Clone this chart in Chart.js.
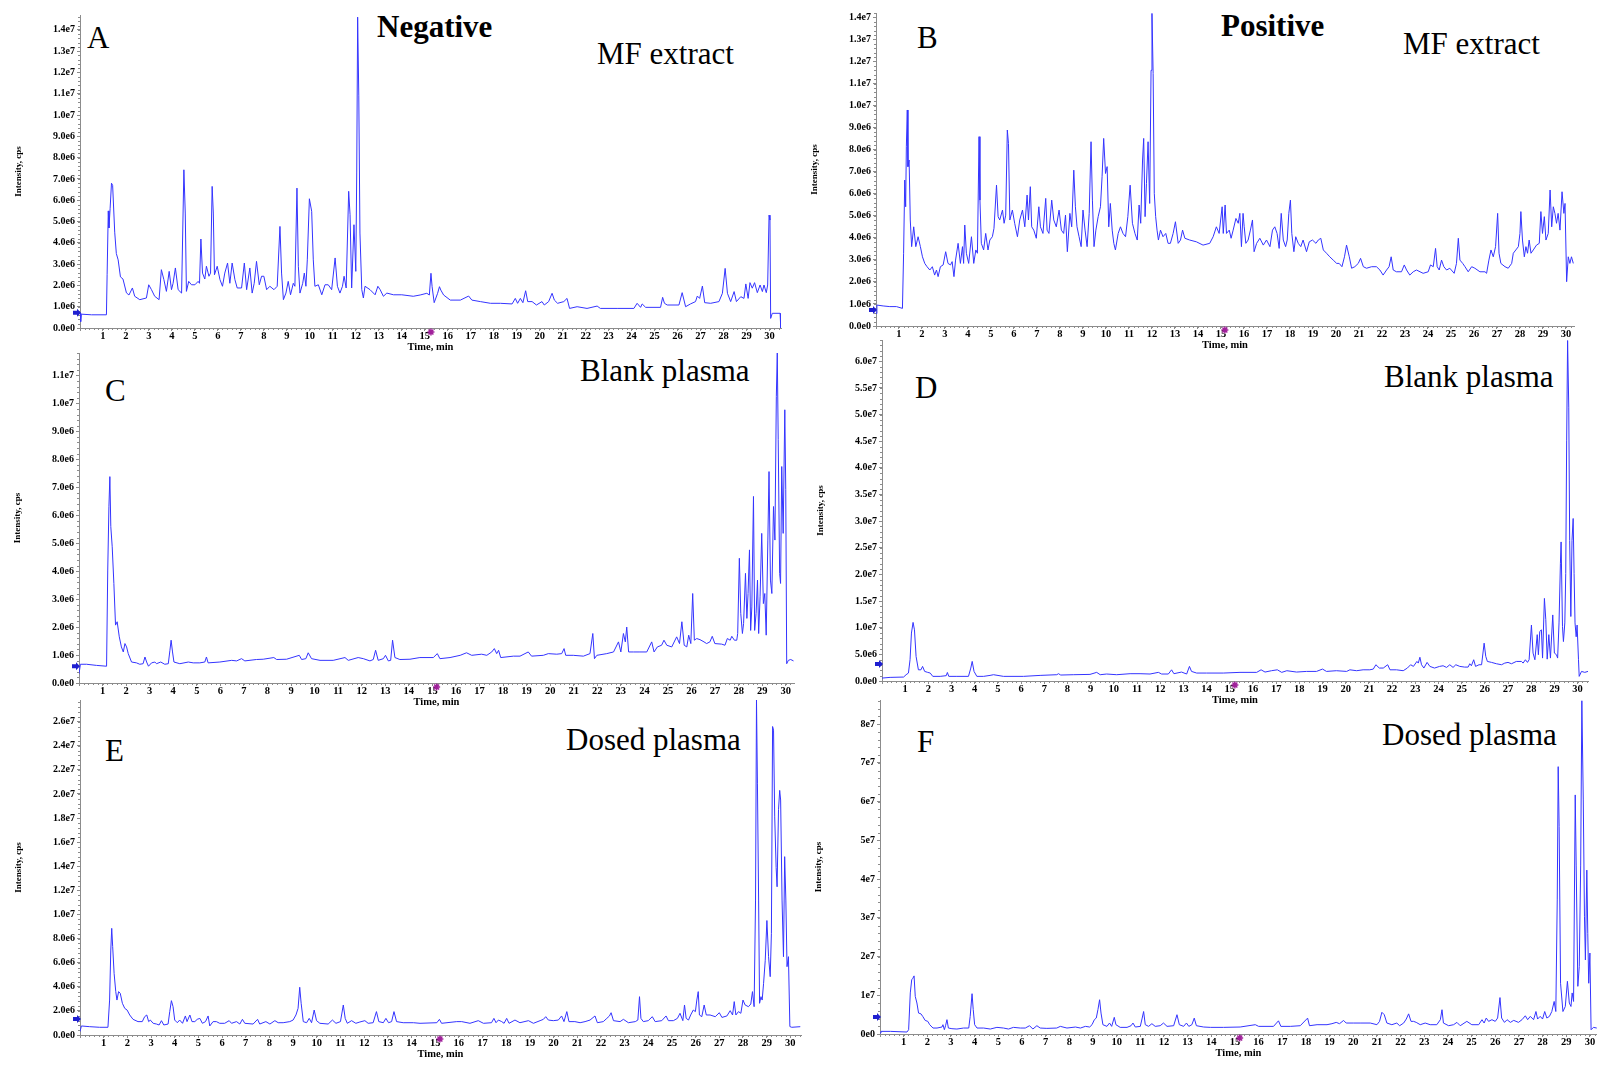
<!DOCTYPE html>
<html>
<head>
<meta charset="utf-8">
<title>TIC chromatograms</title>
<script src="https://cdn.jsdelivr.net/npm/chart.js@4.4.1/dist/chart.umd.min.js"></script>
<style>
  html, body { margin: 0; padding: 0; background: #fff; }
  #fig { position: relative; width: 1597px; height: 1065px; overflow: hidden; background: #fff; }
  #fig canvas { position: absolute; }
  .lbl { position: absolute; font-family: "Liberation Serif", "Times New Roman", serif; font-size: 31px; line-height: 31px; color: #000; white-space: nowrap; }
  .lbl.b { font-weight: bold; }
</style>
</head>
<body>
<div id="fig">
  <div class="lbl" style="left:87px;top:22px">A</div>
  <div class="lbl b" style="left:377px;top:11px">Negative</div>
  <div class="lbl" style="left:597px;top:38px">MF extract</div>
  <div class="lbl" style="left:917px;top:22px">B</div>
  <div class="lbl b" style="left:1221px;top:10px">Positive</div>
  <div class="lbl" style="left:1403px;top:28px">MF extract</div>
  <div class="lbl" style="left:105px;top:375px">C</div>
  <div class="lbl" style="left:580px;top:355px">Blank plasma</div>
  <div class="lbl" style="left:915px;top:372px">D</div>
  <div class="lbl" style="left:1384px;top:361px">Blank plasma</div>
  <div class="lbl" style="left:105px;top:735px">E</div>
  <div class="lbl" style="left:566px;top:724px">Dosed plasma</div>
  <div class="lbl" style="left:917px;top:726px">F</div>
  <div class="lbl" style="left:1382px;top:719px">Dosed plasma</div>
</div>
<script>
// intensities are in units of 1e6 cps, time in min

// A - negative mode, MF extract
var aTime = [0,0.03,0.06,0.5,1.15,1.18,1.23,1.26,1.31,1.37,1.42,1.51,1.58,1.66,1.76,1.87,2.02,2.13,2.28,2.38,2.6,2.89,2.99,3.11,3.25,3.44,3.54,3.65,3.76,3.88,3.98,4.05,4.15,4.27,4.42,4.52,4.58,4.63,4.73,4.85,5.0,5.14,5.2,5.26,5.33,5.43,5.5,5.61,5.68,5.75,5.8,5.85,5.97,6.09,6.2,6.3,6.42,6.52,6.62,6.74,6.84,7.03,7.15,7.25,7.39,7.49,7.58,7.68,7.8,7.9,8.0,8.12,8.26,8.44,8.58,8.7,8.77,8.85,8.96,9.06,9.16,9.28,9.35,9.44,9.5,9.57,9.69,9.76,9.83,9.89,9.98,10.08,10.15,10.22,10.37,10.52,10.66,10.8,10.95,11.1,11.2,11.31,11.42,11.49,11.58,11.69,11.75,11.82,11.92,12.0,12.04,12.08,12.13,12.18,12.26,12.33,12.4,12.62,12.84,12.96,13.06,13.2,13.35,13.64,14.0,14.5,14.8,15.09,15.2,15.27,15.32,15.41,15.56,15.64,15.7,15.82,16.11,16.55,16.91,17.05,17.42,17.86,18.29,18.8,18.94,19.04,19.16,19.27,19.39,19.48,19.67,19.86,20.1,20.2,20.39,20.54,20.64,20.78,21.05,21.19,21.3,21.63,22.06,22.5,22.64,23.37,24.1,24.24,24.39,24.46,24.61,25.26,25.35,25.43,25.55,26.06,26.2,26.35,26.56,26.78,26.86,26.96,27.08,27.18,27.44,27.8,27.95,28.07,28.17,28.31,28.46,28.56,28.75,28.89,28.97,29.07,29.15,29.25,29.35,29.47,29.59,29.69,29.76,29.86,29.92,29.98,30.02,30.05,30.12,30.46,30.49];
var aIntensity = [0.7,0.3,0.65,0.62,0.62,2.5,5.5,4.7,5.6,6.8,6.7,4.5,3.5,3.2,2.4,2.3,1.65,1.55,1.88,1.49,1.33,1.41,2.03,1.8,1.49,1.33,2.74,2.27,1.72,2.66,1.8,2.1,2.82,1.8,1.64,7.43,5.4,1.72,2.19,2.03,2.03,2.19,2.1,4.18,2.58,2.3,2.9,2.43,2.58,6.65,5.4,2.5,2.9,2.27,1.96,2.58,3.05,2.1,3.05,2.27,1.88,1.88,3.05,1.8,2.82,1.64,2.1,3.13,2.03,2.43,2.43,1.8,1.96,1.8,1.96,4.77,2.58,1.33,1.64,2.19,1.56,2.1,1.96,6.57,2.9,1.64,2.1,2.58,1.96,3.2,6.07,5.48,3.2,1.96,2.03,1.56,2.03,2.03,1.8,3.29,1.96,1.64,1.96,2.43,1.88,6.42,5.32,1.88,4.85,2.66,7.28,14.6,10.9,4.46,1.8,1.41,1.96,1.8,1.56,1.96,1.8,1.49,1.64,1.56,1.56,1.49,1.55,1.63,1.55,2.57,1.94,1.19,1.63,1.94,1.78,1.55,1.31,1.31,1.5,1.31,1.24,1.16,1.16,1.13,1.39,1.16,1.39,1.19,1.75,1.24,1.24,1.08,1.24,1.08,1.24,1.63,1.31,1.16,1.24,1.39,0.92,1.0,0.92,1.03,0.92,0.92,0.92,1.16,0.97,1.13,0.97,0.97,1.44,1.16,1.08,1.08,1.66,1.0,1.13,1.24,1.5,1.39,1.97,1.19,1.16,1.24,1.63,2.8,1.63,1.24,1.71,1.24,1.47,1.39,2.07,1.39,2.13,1.87,2.13,1.66,2.02,1.71,2.02,1.66,2.02,5.3,5.07,0.45,0.69,0.69,0.0];

// B - positive mode, MF extract
var bTime = [0,0.04,0.31,0.6,0.89,1.15,1.2,1.25,1.29,1.32,1.36,1.39,1.44,1.49,1.55,1.64,1.73,1.83,1.93,2.02,2.12,2.22,2.34,2.45,2.55,2.63,2.7,2.8,2.92,3.03,3.13,3.24,3.31,3.39,3.46,3.57,3.67,3.76,3.81,3.86,3.93,4.03,4.15,4.25,4.34,4.41,4.48,4.52,4.58,4.68,4.77,4.87,4.95,5.06,5.13,5.24,5.31,5.38,5.5,5.57,5.64,5.71,5.76,5.82,5.93,6.03,6.15,6.25,6.37,6.47,6.57,6.63,6.71,6.77,6.86,6.97,7.08,7.15,7.26,7.38,7.44,7.52,7.64,7.73,7.84,7.96,8.06,8.16,8.24,8.32,8.43,8.51,8.6,8.67,8.74,8.83,8.92,9.0,9.09,9.18,9.27,9.35,9.41,9.48,9.56,9.66,9.76,9.83,9.9,9.98,10.05,10.12,10.19,10.27,10.34,10.41,10.53,10.63,10.74,10.85,10.95,11.05,11.15,11.26,11.36,11.44,11.51,11.59,11.64,11.7,11.76,11.83,11.9,11.96,12.0,12.05,12.1,12.16,12.22,12.28,12.37,12.48,12.6,12.7,12.8,12.92,13.02,13.14,13.24,13.33,13.43,13.64,13.93,14.22,14.51,14.66,14.8,14.92,15.05,15.1,15.18,15.24,15.36,15.44,15.53,15.65,15.75,15.82,15.89,15.96,16.01,16.08,16.18,16.28,16.37,16.44,16.55,16.69,16.84,16.98,17.13,17.24,17.34,17.44,17.53,17.62,17.71,17.81,17.88,17.95,18.02,18.08,18.17,18.25,18.36,18.47,18.57,18.72,18.84,18.98,19.13,19.23,19.34,19.45,19.59,19.73,19.88,20.03,20.14,20.26,20.37,20.46,20.58,20.68,20.82,20.97,21.07,21.19,21.33,21.55,21.76,21.91,22.05,22.2,22.31,22.4,22.49,22.63,22.85,22.97,23.07,23.21,23.36,23.5,23.79,24.01,24.11,24.23,24.33,24.4,24.49,24.59,24.69,24.81,24.95,25.14,25.24,25.32,25.39,25.51,25.61,25.75,25.9,26.04,26.26,26.48,26.55,26.65,26.74,26.84,26.94,27.03,27.09,27.17,27.35,27.49,27.64,27.71,27.82,27.93,28.0,28.04,28.11,28.19,28.26,28.33,28.4,28.48,28.58,28.72,28.84,28.91,28.98,29.06,29.13,29.23,29.31,29.38,29.45,29.52,29.59,29.66,29.74,29.83,29.91,29.96,30.03,30.1,30.17,30.24,30.32];
var bIntensity = [0.57,0.95,0.91,0.88,0.88,0.8,3.3,6.62,5.41,8.13,9.8,7.23,7.53,4.81,3.6,4.5,3.6,4.05,3.6,3.14,2.84,2.69,2.54,2.69,2.31,2.54,2.24,2.69,2.77,3.37,2.84,2.77,2.92,2.24,2.99,3.75,2.84,3.6,2.84,4.58,3.3,2.84,4.05,2.84,3.45,3.3,8.59,5.71,3.75,3.45,4.2,3.45,3.9,4.05,4.43,6.39,4.96,4.81,5.26,4.66,5.03,8.89,8.28,4.81,5.26,4.66,4.05,4.81,5.26,4.5,5.94,4.81,6.32,4.5,4.35,3.98,5.41,4.5,4.2,5.79,4.35,4.2,5.71,4.81,4.5,5.26,4.35,4.2,5.03,3.37,5.11,4.5,7.07,5.41,4.5,4.05,3.6,5.26,4.35,3.6,5.11,8.36,5.71,3.6,4.35,4.96,5.41,6.77,8.51,6.92,7.23,4.5,5.56,4.35,3.75,3.45,4.2,4.5,4.2,4.05,4.96,6.39,4.66,4.2,3.9,5.49,4.66,7.53,8.51,4.96,6.47,8.36,5.56,11.6,14.18,11.46,6.02,4.96,4.35,3.9,4.35,4.05,4.2,3.75,3.75,4.2,4.73,3.75,3.9,4.35,3.98,3.9,3.82,3.67,3.75,4.05,4.5,4.2,5.41,4.2,5.49,4.2,4.35,3.98,4.35,4.88,4.66,5.11,3.6,5.11,4.5,3.75,3.9,4.35,4.81,3.37,3.75,3.98,3.67,3.9,3.6,4.35,4.5,4.2,3.52,5.11,3.9,3.6,3.9,5.11,5.71,4.2,3.37,4.05,3.75,3.6,3.9,3.37,3.82,3.9,3.75,3.9,3.98,3.45,3.3,3.14,2.99,2.84,2.84,2.69,3.14,3.67,3.14,2.62,2.69,2.84,3.07,2.69,2.62,2.69,2.69,2.54,2.31,2.54,2.69,3.14,2.54,2.46,2.46,2.77,2.54,2.31,2.46,2.54,2.39,2.46,2.77,2.69,3.52,2.69,2.54,2.99,2.69,2.54,2.62,2.39,2.84,3.98,2.99,2.84,2.69,2.46,2.69,2.62,2.46,2.46,2.39,2.99,3.45,3.14,3.6,5.11,3.3,2.84,2.69,2.62,2.84,3.3,3.45,3.6,4.2,5.19,3.9,3.14,3.6,3.3,3.9,3.3,3.45,3.67,3.75,5.19,4.2,4.96,3.9,4.2,6.17,4.5,5.41,5.11,4.66,5.11,4.35,6.09,5.11,5.56,2.01,3.14,2.84,3.14,2.84];

// C - negative mode, blank plasma
var cTime = [0,0.06,0.32,0.74,1.17,1.22,1.27,1.31,1.35,1.41,1.48,1.55,1.62,1.71,1.8,1.88,1.95,2.02,2.09,2.23,2.44,2.58,2.72,2.8,2.87,2.95,3.08,3.22,3.29,3.47,3.64,3.79,3.86,3.91,3.97,4.03,4.28,4.64,4.85,5.13,5.34,5.41,5.48,5.98,6.48,6.69,6.9,7.04,7.53,7.82,8.27,8.39,8.81,9.35,9.45,9.63,9.73,9.87,10.23,10.79,11.29,11.43,11.85,12.07,12.35,12.49,12.59,12.7,12.92,13.01,13.13,13.23,13.31,13.41,13.62,14.05,14.47,15.04,15.21,15.32,15.75,16.18,16.45,16.67,17.09,17.31,17.52,17.63,17.73,17.81,17.9,18.44,18.72,19.07,19.21,19.71,19.92,20.28,20.49,20.59,20.66,20.98,21.41,21.69,21.81,21.88,21.98,22.4,22.69,22.9,23.0,23.11,23.19,23.25,23.33,23.53,23.81,24.1,24.31,24.41,24.55,24.73,24.83,24.95,25.16,25.37,25.49,25.59,25.69,25.8,25.88,25.97,26.05,26.12,26.22,26.36,26.53,26.64,26.78,26.88,26.99,27.28,27.42,27.52,27.64,27.71,27.82,27.92,27.96,28.03,28.09,28.16,28.21,28.29,28.35,28.4,28.46,28.51,28.56,28.63,28.68,28.74,28.8,28.85,28.91,28.98,29.05,29.11,29.17,29.24,29.29,29.35,29.41,29.48,29.54,29.6,29.64,29.68,29.74,29.78,29.83,29.89,29.96,30.0,30.04,30.11,30.21,30.33];
var cIntensity = [0.33,0.67,0.67,0.63,0.6,4.04,6.3,7.38,5.59,4.87,3.56,2.07,2.19,1.65,1.29,1.11,1.41,1.29,1.05,0.75,0.72,0.67,0.69,0.93,0.75,0.6,0.72,0.75,0.69,0.75,0.67,0.69,1.17,1.53,1.11,0.75,0.69,0.75,0.72,0.72,0.75,0.93,0.72,0.75,0.81,0.79,0.87,0.79,0.84,0.85,0.91,0.84,0.85,0.99,0.84,0.87,1.08,0.87,0.81,0.81,0.91,0.81,0.91,0.87,0.79,0.84,1.17,0.81,0.87,0.99,0.79,0.81,1.53,0.91,0.84,0.85,0.91,0.91,1.05,0.87,0.91,0.99,1.08,0.99,1.03,0.99,1.11,1.23,1.05,1.17,0.91,0.96,0.96,1.11,0.96,0.99,1.05,1.03,1.05,1.23,0.99,0.99,0.96,1.05,1.77,0.87,0.99,1.05,1.11,1.47,1.11,1.77,1.47,2.0,1.11,1.11,1.11,1.11,1.47,1.11,1.29,1.35,1.53,1.35,1.29,1.65,1.41,2.19,1.35,1.29,1.71,1.41,3.2,1.53,1.59,1.55,1.47,1.41,1.47,1.67,1.41,1.39,1.35,1.59,1.53,1.67,1.53,1.53,1.77,4.46,2.49,1.77,2.13,3.92,2.31,3.2,4.76,1.88,2.72,6.67,1.88,2.49,3.68,1.77,3.08,5.35,2.84,3.2,1.71,5.11,7.56,3.68,3.2,6.31,5.11,10.25,11.8,8.7,3.92,3.56,7.74,5.35,9.77,6.91,0.69,0.81,0.84,0.79];

// D - positive mode, blank plasma
var dTime = [0,0.35,0.93,1.04,1.14,1.21,1.27,1.34,1.4,1.47,1.57,1.68,1.75,1.84,1.97,2.08,2.19,2.51,2.77,2.82,2.88,3.23,3.73,3.83,3.89,3.97,4.09,4.38,4.66,4.81,5.24,6.1,6.82,7.54,7.61,7.71,8.25,8.97,9.26,9.41,9.69,10.12,10.7,11.13,11.56,11.92,12.06,12.35,12.49,12.59,12.92,13.14,13.26,13.35,13.57,14.0,14.72,15.44,16.16,16.35,16.52,16.8,17.05,17.24,17.46,17.88,18.31,18.74,19.0,19.17,19.6,20.04,20.18,20.47,20.75,21.04,21.19,21.3,21.45,21.62,21.81,21.91,22.19,22.48,22.66,22.8,22.92,23.07,23.13,23.2,23.27,23.37,23.51,23.63,23.83,24.05,24.2,24.35,24.49,24.63,24.75,24.92,25.13,25.28,25.35,25.42,25.52,25.6,25.75,25.86,25.97,26.04,26.11,26.29,26.5,26.72,26.86,27.0,27.15,27.36,27.58,27.65,27.75,27.84,27.91,28.01,28.08,28.16,28.26,28.31,28.37,28.44,28.49,28.57,28.63,28.69,28.76,28.83,28.93,29.0,29.09,29.14,29.2,29.26,29.29,29.35,29.39,29.45,29.49,29.53,29.57,29.62,29.66,29.71,29.76,29.81,29.85,29.89,29.94,29.98,30.04,30.07,30.17,30.31,30.45];
var dIntensity = [0.55,0.68,0.74,1.18,1.49,4.0,9.0,11.0,9.6,4.6,2.1,2.1,2.74,1.8,1.62,1.49,0.87,0.87,1.0,1.6,0.87,0.87,0.87,2.43,3.68,1.8,0.87,0.87,1.05,1.18,0.87,0.87,1.05,1.18,1.37,1.12,1.18,1.24,1.62,1.18,1.31,1.18,1.37,1.37,1.31,1.62,1.31,1.31,2.1,1.37,1.68,1.31,2.74,1.8,1.49,1.49,1.49,1.62,1.62,2.1,1.68,1.93,2.1,1.62,1.93,1.68,1.8,1.8,2.24,1.8,1.93,1.8,2.1,1.93,2.1,2.1,2.24,3.05,2.43,2.43,3.05,2.1,2.1,1.93,2.43,3.05,2.74,3.67,3.36,4.46,3.05,2.43,3.49,2.74,2.43,2.74,2.86,2.55,3.05,2.55,3.05,2.74,2.61,2.61,3.24,2.86,3.99,2.74,3.05,3.05,7.1,4.62,3.67,3.49,3.24,3.05,3.36,3.49,3.24,3.67,3.67,3.36,3.99,3.49,3.99,10.5,5.24,3.99,8.7,4.93,9.3,9.6,4.3,15.5,11.5,4.1,8.7,4.3,12.4,5.24,4.93,4.3,10.9,22.1,26.1,10.2,7.4,10.9,20.2,45.2,63.9,51.4,26.4,12.1,26.4,30.5,20.2,10.9,8.3,10.5,4.0,0.87,1.8,1.62,1.8];

// E - negative mode, dosed plasma
var eTime = [0,0.06,0.41,0.83,1.18,1.25,1.3,1.34,1.38,1.44,1.51,1.56,1.63,1.7,1.79,1.89,1.99,2.1,2.24,2.45,2.63,2.73,2.82,2.9,2.97,3.09,3.23,3.34,3.44,3.54,3.72,3.79,3.86,3.93,4.0,4.11,4.21,4.33,4.45,4.52,4.64,4.73,4.85,4.95,5.06,5.17,5.3,5.41,5.48,5.62,5.76,5.9,6.11,6.3,6.4,6.61,6.75,6.86,6.96,7.31,7.5,7.59,7.85,8.02,8.23,8.37,8.58,8.86,9.0,9.12,9.21,9.28,9.34,9.43,9.57,9.68,9.78,9.89,9.99,10.13,10.48,10.66,10.81,11.0,11.12,11.2,11.29,11.47,11.65,11.82,12.03,12.17,12.38,12.52,12.62,12.81,12.92,13.03,13.16,13.26,13.37,13.65,14.08,14.36,15.07,15.18,15.27,15.91,16.12,16.47,16.82,17.04,17.38,17.48,17.57,17.67,17.81,17.91,18.02,18.12,18.37,18.58,18.94,19.15,19.43,19.57,19.67,19.78,19.99,20.2,20.34,20.44,20.56,20.65,20.9,21.12,21.33,21.54,21.75,21.85,22.1,22.25,22.36,22.43,22.53,22.81,22.95,23.16,23.45,23.56,23.63,23.69,23.79,24.0,24.17,24.29,24.57,24.75,24.85,25.06,25.23,25.34,25.46,25.53,25.6,25.7,25.79,25.9,25.99,26.05,26.11,26.16,26.26,26.36,26.45,26.61,26.83,27.0,27.11,27.32,27.46,27.56,27.63,27.7,27.81,27.91,28.0,28.09,28.23,28.33,28.4,28.47,28.53,28.57,28.61,28.66,28.7,28.76,28.81,28.87,28.94,29.01,29.08,29.15,29.2,29.25,29.29,29.34,29.4,29.44,29.5,29.55,29.59,29.65,29.71,29.76,29.81,29.86,29.92,29.98,30.06,30.42];
var eIntensity = [0.28,0.75,0.69,0.64,0.64,2.9,7.05,8.85,7.33,5.12,3.6,2.9,3.6,3.46,2.63,2.21,2.07,1.66,1.3,1.11,1.11,1.52,1.66,1.11,1.24,0.97,0.91,0.83,1.19,0.83,0.91,1.94,2.85,2.35,1.24,1.02,1.24,0.97,1.58,1.11,1.66,1.11,1.11,1.3,1.38,0.97,1.11,1.58,0.75,1.11,1.11,0.97,0.97,1.19,0.97,1.11,0.91,1.3,0.97,0.91,1.3,0.91,1.11,0.91,1.19,1.02,1.02,1.11,1.24,1.66,2.21,3.96,2.63,1.11,1.02,1.38,1.02,2.07,1.19,0.97,0.91,1.24,0.97,1.11,2.49,1.38,0.97,1.19,0.97,1.08,1.19,0.97,1.02,1.94,1.11,1.02,1.38,1.02,1.11,1.94,1.11,1.02,1.02,0.97,1.02,1.3,0.97,1.11,1.11,0.97,1.19,0.97,1.02,1.38,1.02,1.24,1.11,0.97,1.38,0.97,1.24,1.02,1.19,0.97,1.19,1.3,1.52,1.24,1.19,1.24,1.58,1.11,1.94,1.11,1.11,1.02,1.11,1.24,1.58,1.02,1.11,1.38,1.58,1.85,1.19,1.11,1.3,1.02,1.11,1.24,3.18,1.38,1.11,1.19,1.52,1.11,1.19,1.58,1.19,1.19,1.38,1.8,1.19,2.49,1.38,1.24,1.66,2.07,1.94,2.9,3.6,1.66,1.52,2.49,1.66,1.66,1.52,1.85,1.46,1.58,2.02,1.66,2.77,1.66,1.94,1.8,2.9,2.49,2.35,2.57,3.6,2.35,11.2,27.8,20.9,11.2,2.63,3.18,2.9,4.29,6.2,9.5,6.5,4.84,8.44,25.6,25.3,18.1,13.9,12.3,18.7,20.3,19.5,11.2,6.5,14.8,11.2,5.67,6.5,0.7,0.64,0.69];

// F - positive mode, dosed plasma
var fTime = [0,0.04,0.44,1.14,1.21,1.28,1.34,1.39,1.44,1.49,1.56,1.63,1.73,1.81,1.91,2.02,2.1,2.24,2.41,2.62,2.66,2.72,2.77,2.83,2.89,3.04,3.25,3.53,3.75,3.81,3.89,3.94,4.0,4.1,4.38,4.66,4.94,5.22,5.43,5.64,5.93,6.14,6.32,6.46,6.63,6.77,7.05,7.47,7.62,7.9,8.26,8.47,8.68,8.86,8.96,9.06,9.14,9.21,9.28,9.34,9.42,9.59,9.7,9.79,9.9,9.97,10.15,10.44,10.61,10.69,10.79,11.0,11.08,11.14,11.21,11.35,11.49,11.63,11.84,11.98,12.13,12.41,12.55,12.65,12.83,12.95,13.05,13.18,13.28,13.37,13.68,13.96,14.52,15.22,15.86,16.0,16.63,16.84,16.94,17.34,17.76,18.07,18.15,18.47,18.89,19.1,19.28,19.42,19.59,19.7,20.0,20.29,20.72,21.0,21.11,21.21,21.31,21.42,21.63,21.84,21.96,22.13,22.24,22.34,22.44,22.55,22.66,22.83,23.04,23.25,23.53,23.68,23.75,23.81,24.03,24.24,24.38,24.52,24.8,25.01,25.3,25.44,25.53,25.62,25.72,25.86,26.0,26.1,26.2,26.27,26.39,26.5,26.64,26.78,26.98,27.13,27.27,27.37,27.48,27.62,27.72,27.79,27.9,28.0,28.09,28.18,28.29,28.39,28.49,28.56,28.62,28.66,28.7,28.76,28.86,28.96,29.05,29.13,29.2,29.25,29.31,29.38,29.42,29.49,29.55,29.61,29.66,29.72,29.77,29.81,29.87,29.91,29.95,30.0,30.05,30.15,30.29];
var fIntensity = [0.25,0.68,0.68,0.51,1.1,10.6,14.0,14.4,15.0,9.7,8.0,5.4,5.2,4.5,3.5,3.26,2.4,1.54,1.54,1.8,2.4,1.11,2.14,3.7,1.54,1.37,1.28,1.54,1.54,4.5,10.4,6.3,2.4,1.54,1.54,1.28,1.71,1.54,1.28,1.71,1.54,1.54,2.14,1.28,2.14,1.54,1.45,1.54,1.97,1.54,1.8,1.54,1.97,1.8,2.4,3.7,4.12,6.3,8.84,5.4,2.4,1.97,2.83,1.97,4.3,2.4,1.71,1.71,2.14,2.83,1.8,1.97,4.12,5.8,2.4,1.97,2.66,1.97,2.14,2.83,1.97,2.14,4.98,2.4,1.97,2.83,1.97,2.4,4.1,2.14,1.8,1.71,1.71,1.8,2.4,1.97,1.97,3.4,1.97,1.97,2.14,4.1,2.14,2.4,2.4,2.66,3.0,2.66,3.5,2.83,2.83,2.83,2.83,2.4,3.26,5.6,4.98,2.83,2.4,2.83,2.14,2.83,3.86,5.2,3.26,3.26,3.0,2.4,2.83,2.4,2.4,3.69,6.27,2.83,2.14,2.4,3.0,2.14,3.26,2.4,2.4,3.69,2.83,4.12,3.26,3.69,3.26,4.12,9.4,4.12,3.0,3.69,3.0,3.52,3.0,3.69,4.7,3.69,4.55,3.69,5.8,3.86,4.55,3.86,5.8,4.12,4.55,5.8,8.4,5.8,34.6,69.0,53.5,13.1,5.8,7.1,13.6,7.98,7.1,10.6,8.4,61.7,43.6,12.3,17.4,43.6,86.0,60.4,30.4,19.1,42.3,26.0,13.1,20.9,1.1,1.71,1.54];

// blue arrow level on the y axis and the injection (purple star) time, per panel A-F
var markerLevels = [0.72, 0.73, 0.6, 3.2, 1.33, 4.4];
var starTimes = [15.27, 15.17, 15.18, 15.22, 15.2, 15.2];

var seriesTime = [aTime, bTime, cTime, dTime, eTime, fTime];
var seriesIntensity = [aIntensity, bIntensity, cIntensity, dIntensity, eIntensity, fIntensity];

// frame of each panel in page pixels
var frames = [
  {axisX: 80,  right: 781,  top: 15,  bottom: 328,  xMax: 30.5,  yMax: 14.7, yStep: 1,  digits: 1},
  {axisX: 876, right: 1574, top: 13,  bottom: 326,  xMax: 30.35, yMax: 14.2, yStep: 1,  digits: 1},
  {axisX: 79,  right: 794,  top: 353, bottom: 683,  xMax: 30.35, yMax: 11.8, yStep: 1,  digits: 1},
  {axisX: 882, right: 1588, top: 340, bottom: 681,  xMax: 30.45, yMax: 64,   yStep: 5,  digits: 1},
  {axisX: 80,  right: 801,  top: 700, bottom: 1035, xMax: 30.45, yMax: 27.8, yStep: 2,  digits: 1},
  {axisX: 880, right: 1597, top: 700, bottom: 1034, xMax: 30.3,  yMax: 86.2, yStep: 10, digits: 0}
];

var Y_W = 80, X_H = 26, PAD_T = 10, PAD_R = 2;
var serif = '"Liberation Serif", "Times New Roman", serif';
var axisGrey = '#8c8c8c';

// minor ticks, y-axis arrow and injection star
var extras = {
  id: 'extras',
  afterDraw: function (chart, args, o) {
    var ctx = chart.ctx, area = chart.chartArea;
    var xs = chart.scales.x, ys = chart.scales.y;
    ctx.save();
    ctx.strokeStyle = axisGrey;
    ctx.lineWidth = 1;
    ctx.beginPath();
    for (var v = 0; v <= xs.max + 1e-9; v += 0.2) {
      var px = Math.round(xs.getPixelForValue(v)) + 0.5;
      ctx.moveTo(px, area.bottom);
      ctx.lineTo(px, area.bottom + 2);
    }
    var ym = o.yStep / 5;
    for (var w = 0; w <= ys.max + 1e-9; w += ym) {
      var py = Math.round(ys.getPixelForValue(w)) + 0.5;
      ctx.moveTo(area.left - 2, py);
      ctx.lineTo(area.left, py);
    }
    ctx.stroke();

    // arrow marker
    var my = ys.getPixelForValue(o.mark);
    ctx.fillStyle = '#1f1fd0';
    ctx.beginPath();
    ctx.moveTo(area.left - 7, my - 2);
    ctx.lineTo(area.left - 3, my - 2);
    ctx.lineTo(area.left - 3, my - 4);
    ctx.lineTo(area.left + 1, my);
    ctx.lineTo(area.left - 3, my + 4);
    ctx.lineTo(area.left - 3, my + 2);
    ctx.lineTo(area.left - 7, my + 2);
    ctx.closePath();
    ctx.fill();

    // star
    var sx = xs.getPixelForValue(o.star), sy = area.bottom + 4;
    ctx.strokeStyle = '#a0209a';
    ctx.lineWidth = 1.5;
    ctx.beginPath();
    for (var k = 0; k < 4; k++) {
      var a = k * Math.PI / 4;
      ctx.moveTo(sx - 3.5 * Math.cos(a), sy - 3.5 * Math.sin(a));
      ctx.lineTo(sx + 3.5 * Math.cos(a), sy + 3.5 * Math.sin(a));
    }
    ctx.stroke();
    ctx.restore();
  }
};

var fig = document.getElementById('fig');

frames.forEach(function (fr, i) {
  var canvas = document.createElement('canvas');
  var w = Y_W + (fr.right - fr.axisX) + PAD_R;
  var h = PAD_T + (fr.bottom - fr.top) + X_H;
  canvas.width = w;
  canvas.height = h;
  canvas.style.left = (fr.axisX - Y_W) + 'px';
  canvas.style.top = (fr.top - PAD_T) + 'px';
  canvas.style.width = w + 'px';
  canvas.style.height = h + 'px';
  fig.appendChild(canvas);

  var pts = seriesTime[i].map(function (t, j) { return {x: t, y: seriesIntensity[i][j]}; });

  new Chart(canvas, {
    type: 'line',
    data: {
      datasets: [{
        data: pts,
        borderColor: '#3434ff',
        borderWidth: 1,
        pointRadius: 0,
        tension: 0,
        fill: false
      }]
    },
    options: {
      responsive: false,
      animation: false,
      devicePixelRatio: 1,
      events: [],
      layout: {padding: {top: PAD_T, right: PAD_R, left: 0, bottom: 0}},
      plugins: {
        legend: {display: false},
        tooltip: {enabled: false},
        extras: {yStep: fr.yStep, mark: markerLevels[i], star: starTimes[i]}
      },
      scales: {
        x: {
          type: 'linear',
          min: 0,
          max: fr.xMax,
          grid: {drawOnChartArea: false, drawTicks: true, tickLength: 3, color: axisGrey},
          border: {display: true, color: axisGrey, width: 1},
          ticks: {
            stepSize: 1,
            includeBounds: false,
            autoSkip: false,
            maxRotation: 0,
            padding: -1,
            color: '#000',
            font: {family: serif, weight: 'bold', size: 10.5},
            callback: function (v) { return v === 0 ? '' : v; }
          },
          title: {
            display: true,
            text: 'Time, min',
            color: '#000',
            font: {family: serif, weight: 'bold', size: 10.5},
            padding: {top: 0, bottom: 0}
          },
          afterFit: function (s) { s.height = X_H; }
        },
        y: {
          min: 0,
          max: fr.yMax,
          grid: {drawOnChartArea: false, drawTicks: true, tickLength: 3, color: axisGrey},
          border: {display: true, color: axisGrey, width: 1},
          ticks: {
            stepSize: fr.yStep,
            includeBounds: false,
            autoSkip: false,
            padding: 2,
            color: '#000',
            font: {family: serif, weight: 'bold', size: 10},
            callback: function (v) { return (v * 1e6).toExponential(fr.digits).replace('+', ''); }
          },
          title: {
            display: true,
            text: 'Intensity, cps',
            color: '#000',
            font: {family: serif, weight: 'bold', size: 9},
            padding: {top: 13, bottom: 0}
          },
          afterFit: function (s) { s.width = Y_W; }
        }
      }
    },
    plugins: [extras]
  });
});
</script>
</body>
</html>
